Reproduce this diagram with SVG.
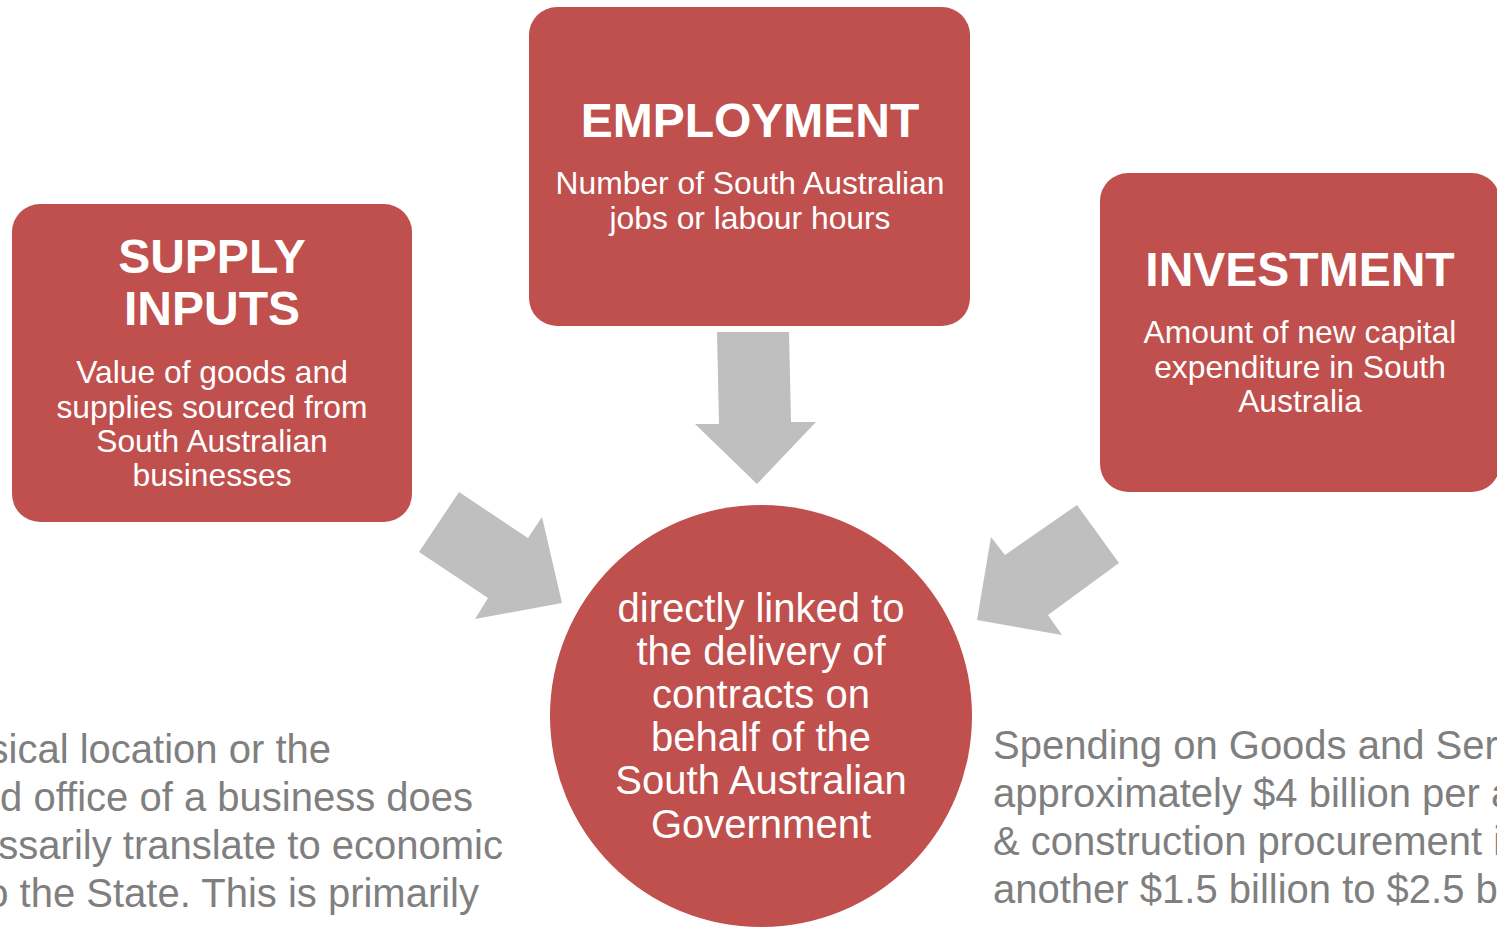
<svg xmlns="http://www.w3.org/2000/svg" width="1497" height="927" viewBox="0 0 1497 927">
<style>
.box{fill:#C0504D}
.arrow{fill:#BFBFBF}
.title{font-family:"Liberation Sans",Arial,sans-serif;font-weight:bold;font-size:48px;fill:#FFFFFF;text-anchor:middle}
.sub{font-family:"Liberation Sans",Arial,sans-serif;font-size:31.8px;fill:#FFFFFF;text-anchor:middle}
.circ{font-family:"Liberation Sans",Arial,sans-serif;font-size:40px;fill:#FFFFFF;text-anchor:middle}
.gray{font-family:"Liberation Sans",Arial,sans-serif;font-size:40px;fill:#7F7F7F}
</style>
<rect width="1497" height="927" fill="#FFFFFF"/>
<g id="connectors">
<polygon class="arrow" points="717,332 789,332 791,422 816,422 757,484 695,424 719,424"/>
<polygon class="arrow" points="419,552 459,492 528,538 542,517 562,603 475,619 488,598"/>
<polygon class="arrow" points="1077,505 1119,563 1048,615 1062,635 977,620 991,537 1005,555"/>
</g>
<g id="employment">
<rect class="box" x="529" y="7" width="441" height="319" rx="28"/>
<text class="title" x="750" y="137">EMPLOYMENT</text>
<text class="sub" x="750" y="194">Number of South Australian</text>
<text class="sub" x="750" y="229">jobs or labour hours</text>
</g>
<g id="supply-inputs">
<rect class="box" x="12" y="204" width="400" height="318" rx="28"/>
<text class="title" x="212" y="273">SUPPLY</text>
<text class="title" x="212" y="325">INPUTS</text>
<text class="sub" x="212" y="383">Value of goods and</text>
<text class="sub" x="212" y="418">supplies sourced from</text>
<text class="sub" x="212" y="452">South Australian</text>
<text class="sub" x="212" y="486">businesses</text>
</g>
<g id="investment">
<rect class="box" x="1100" y="173" width="400" height="319" rx="28"/>
<text class="title" x="1300" y="286">INVESTMENT</text>
<text class="sub" x="1300" y="343">Amount of new capital</text>
<text class="sub" x="1300" y="378">expenditure in South</text>
<text class="sub" x="1300" y="412">Australia</text>
</g>
<g id="centre">
<circle class="box" cx="761" cy="716" r="211"/>
<text class="circ" x="761" y="622">directly linked to</text>
<text class="circ" x="761" y="665">the delivery of</text>
<text class="circ" x="761" y="708">contracts on</text>
<text class="circ" x="761" y="751">behalf of the</text>
<text class="circ" x="761" y="794">South Australian</text>
<text class="circ" x="761" y="838">Government</text>
</g>
<g id="left-note">
<text class="gray" x="331" y="763" text-anchor="end">sical location or the</text>
<text class="gray" x="473" y="811" text-anchor="end">d office of a business does</text>
<text class="gray" x="503" y="859" text-anchor="end">ssarily translate to economic</text>
<text class="gray" x="479" y="907" text-anchor="end">o the State. This is primarily</text>
</g>
<g id="right-note">
<text class="gray" x="993" y="759">Spending on Goods and Ser</text>
<text class="gray" x="993" y="807">approximately $4 billion per a</text>
<text class="gray" x="993" y="855">&amp; construction procurement i</text>
<text class="gray" x="993" y="903">another $1.5 billion to $2.5 b</text>
</g>
</svg>
